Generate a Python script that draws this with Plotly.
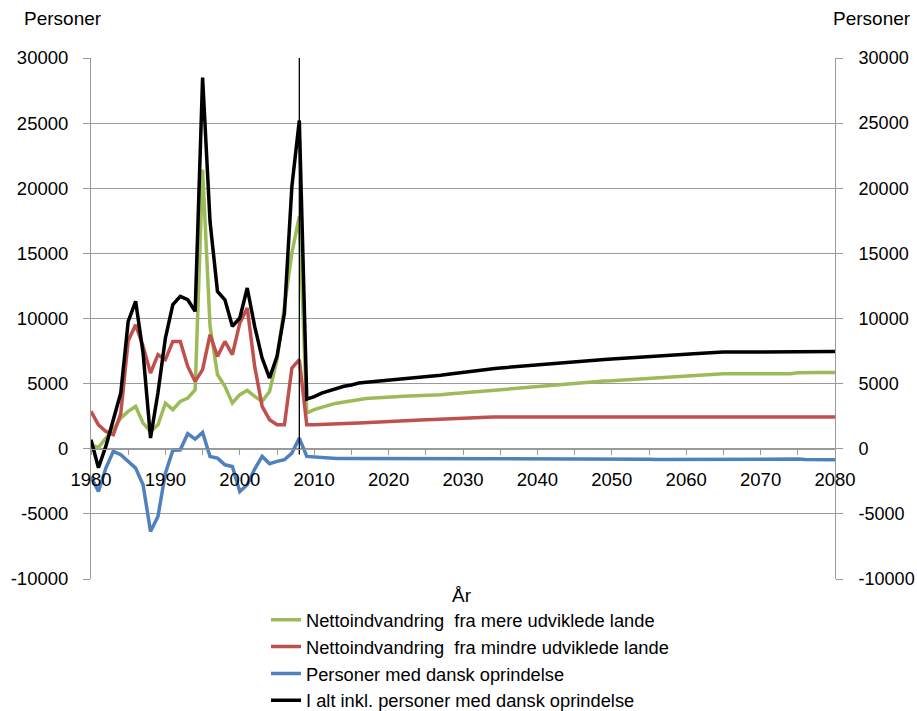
import plotly.graph_objects as go

years = list(range(1980, 2081))

# Nettoindvandring fra mere udviklede lande
green = [300, 100, 820, 1460, 2350, 2870, 3250, 1970, 1330, 1840,
         3500, 3000, 3640, 3890, 4530, 21430, 9400, 5700, 4790, 3500,
         4150, 4480, 4020, 3640, 4400, 6840, 10930, 15030, 17840,
         2740, 3000, 3200, 3350, 3500, 3600, 3700, 3800, 3850, 3900, 3950,
         4000, 4000, 4030, 4050, 4050, 4070, 4100, 4150, 4200, 4250,
         4300, 4350, 4400, 4430, 4480, 4530, 4580, 4630, 4680, 4730,
         4790, 4840, 4880, 4930, 4980, 5040, 5080, 5120, 5160, 5200,
         5220, 5260, 5300, 5340, 5380, 5400, 5440, 5480, 5520, 5560,
         5600, 5640, 5680, 5720, 5760, 5760, 5760, 5760, 5760, 5760,
         5760, 5760, 5760, 5760, 5760, 5830, 5860, 5860, 5860, 5860, 5860]

# Nettoindvandring fra mindre udviklede lande
red = [2870, 1840, 1330, 1075, 2700, 8300, 9520, 7860, 5810, 7220,
       6840, 8240, 8240, 6320, 5170, 6070, 8755, 7090, 8240, 7220,
       9650, 10800, 6320, 3250, 2230, 1840, 1840, 6200, 6840,
       1840, 1840, 1850, 1870, 1900, 1920, 1950, 1980, 2000, 2020, 2050,
       2080, 2100, 2130, 2160, 2190, 2220, 2250, 2280, 2300, 2320,
       2340, 2360, 2390, 2420, 2430, 2430, 2430, 2430, 2430, 2430,
       2430, 2430, 2430, 2430, 2430, 2430, 2430, 2430, 2430, 2430,
       2430, 2430, 2430, 2430, 2430, 2430, 2430, 2430, 2430, 2430,
       2430, 2430, 2430, 2430, 2430, 2430, 2430, 2430, 2430, 2430,
       2430, 2430, 2430, 2430, 2430, 2430, 2430, 2430, 2430, 2430, 2430]

# Personer med dansk oprindelse
blue = [-2125, -3280, -1485, -200, -460, -970, -1485, -2765, -6350, -5200,
        -1870, -130, -80, 1150, 740, 1250, -590, -720, -1230, -1360,
        -3280, -2765, -1560, -590, -1150, -970, -845, -330, 820,
        -590, -640, -700, -740, -750, -750, -750, -750, -760, -780, -800,
        -760, -750, -800, -780, -750, -750, -750, -750, -750, -750,
        -750, -750, -750, -750, -750, -750, -750, -750, -750, -750,
        -750, -750, -750, -750, -750, -750, -750, -750, -750, -750,
        -750, -750, -750, -750, -750, -800, -820, -820, -820, -820,
        -820, -820, -820, -820, -800, -780, -760, -760, -760, -760,
        -760, -760, -760, -760, -760, -790, -830, -850, -850, -850, -850]

# I alt inkl. personer med dansk oprindelse
black = [690, -1460, 200, 2230, 4275, 9780, 11315, 7350, 820, 4300,
         8500, 11060, 11700, 11440, 10550, 28500, 17430, 12080, 11440, 9400,
         10035, 12340, 9400, 6960, 5430, 7090, 10420, 20150, 25200,
         3810, 4000, 4275, 4450, 4650, 4800, 4900, 5050, 5100, 5150, 5200,
         5250, 5300, 5350, 5400, 5450, 5500, 5580, 5650, 5720, 5800,
         5880, 5950, 6030, 6100, 6150, 6200, 6250, 6300, 6350, 6400,
         6470, 6520, 6560, 6610, 6660, 6720, 6750, 6780, 6820, 6860,
         6900, 6930, 6960, 6990, 7030, 7060, 7100, 7140, 7180, 7220,
         7260, 7300, 7340, 7380, 7420, 7420, 7420, 7420, 7420, 7420,
         7420, 7420, 7420, 7420, 7440, 7470, 7470, 7470, 7470, 7470, 7470]

marker_year = [2008, 2008]
marker_span = [-450, 30000]

y_ticks = [-10000, -5000, 0, 5000, 10000, 15000, 20000, 25000, 30000]
y_labels = ["-10000", "-5000", "0", "5000", "10000", "15000", "20000", "25000", "30000"]
x_ticks = [1980, 1990, 2000, 2010, 2020, 2030, 2040, 2050, 2060, 2070, 2080]

names = ["Nettoindvandring  fra mere udviklede lande",
         "Nettoindvandring  fra mindre udviklede lande",
         "Personer med dansk oprindelse",
         "I alt inkl. personer med dansk oprindelse"]
colors = ["#9BBB59", "#C0504D", "#4F81BD", "#000000"]

FONT = "Liberation Sans, Arial, sans-serif"
fig = go.Figure()
for name, vals, col in zip(names, [green, red, blue, black], colors):
    fig.add_trace(go.Scatter(x=years, y=vals, mode="lines", name=name,
                             line=dict(color=col, width=3.5)))
fig.add_trace(go.Scatter(x=marker_year, y=marker_span, mode="lines", yaxis="y2",
                         line=dict(color="#000000", width=1.3), showlegend=False,
                         hoverinfo="skip"))

grid = "#9a9a9a"
fig.update_layout(
    width=917, height=711,
    margin=dict(l=91, r=82, t=58, b=132, autoexpand=False),
    paper_bgcolor="white", plot_bgcolor="white",
    font=dict(family=FONT, size=18, color="#000000"),
    showlegend=True,
    legend=dict(x=(266 - 91) / 744, y=-0.043, xanchor="left", yanchor="top",
                orientation="v", font=dict(size=18.3), bgcolor="rgba(0,0,0,0)",
                tracegroupgap=0, itemwidth=30),
    xaxis=dict(range=[1980, 2080], anchor="free", position=(579 - 449) / 521,
               tickmode="array", tickvals=x_ticks, ticks="outside", ticklen=5,
               tickcolor=grid, showline=True, linecolor=grid, linewidth=1,
               showgrid=False, zeroline=False, ticklabelstandoff=9,
               minor=dict(dtick=5, tick0=1980, ticks="outside", ticklen=5, tickcolor=grid, showgrid=False),
               tickfont=dict(size=18.5)),
    yaxis=dict(range=[-10000, 30000], tickmode="array", tickvals=y_ticks, ticktext=y_labels,
               ticks="outside", ticklen=7, tickcolor=grid, showline=True, linecolor=grid,
               showgrid=True, gridcolor=grid, gridwidth=1, zeroline=False,
               ticklabelstandoff=11, tickfont=dict(size=18.5)),
    yaxis2=dict(range=[-10000, 30000], overlaying="y", side="right", tickmode="array",
                tickvals=y_ticks, ticktext=y_labels, ticks="outside", ticklen=7, tickcolor=grid,
                showline=True, linecolor=grid, showgrid=False, zeroline=False,
                ticklabelstandoff=12, tickfont=dict(size=18)),
    annotations=[
        dict(text="Personer", xref="paper", yref="paper", x=(22 - 91) / 744, y=1 + (58 - 18) / 521,
             showarrow=False, xanchor="left", yanchor="middle", font=dict(size=19)),
        dict(text="Personer", xref="paper", yref="paper", x=(913 - 91) / 744, y=1 + (58 - 18) / 521,
             showarrow=False, xanchor="right", yanchor="middle", font=dict(size=19)),
        dict(text="År", xref="paper", yref="paper", x=(462 - 91) / 744, y=-(595 - 579) / 521,
             showarrow=False, xanchor="center", yanchor="middle", font=dict(size=19)),
    ],
)
fig.write_html("out.html", config={"displayModeBar": False},
               post_script="document.body.style.margin='0';")
